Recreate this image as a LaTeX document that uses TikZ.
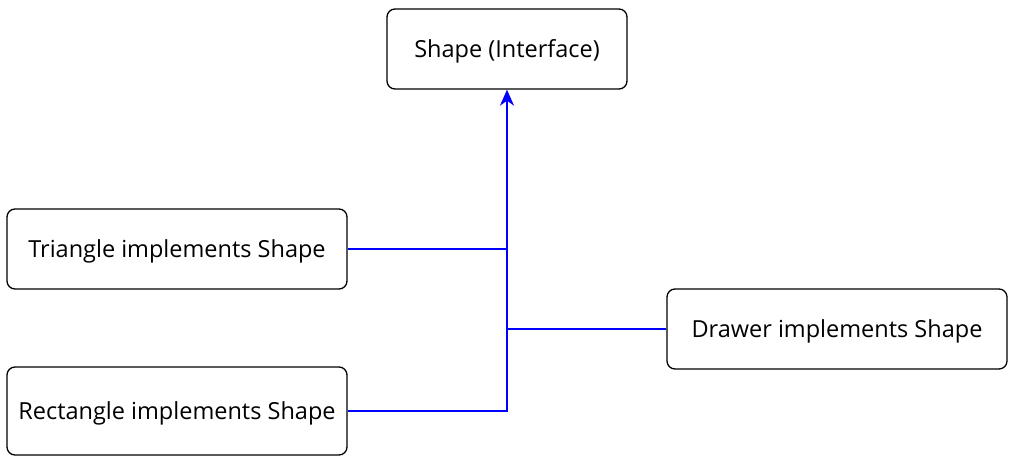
\documentclass[tikz,border=0pt]{standalone}
\usepackage{fontspec}
\setmainfont{Open Sans}
\usetikzlibrary{arrows.meta}
\begin{document}
\begin{tikzpicture}[x=1pt,y=1pt,
  box/.style={draw,line width=1.3pt,rounded corners=8pt,minimum width=340pt,minimum height=80pt,inner sep=0pt,text height=17pt,text depth=0pt,font=\fontsize{23.5}{26}\selectfont},
  link/.style={draw=blue,line width=1.6pt}]
\useasboundingbox (0,0) rectangle (1014,464);
\node[box,minimum width=240pt] (shape) at (507,415) {Shape (Interface)};
\node[box] (tri) at (177,215) {Triangle implements Shape};
\node[box,minimum height=88pt] (rect) at (177,53) {Rectangle implements Shape};
\node[box] (drawer) at (837,135) {Drawer implements Shape};
\draw[link] (tri.east) -- (tri.east -| shape.south);
\draw[link] (drawer.west) -- (drawer.west -| shape.south);
\draw[link,-{Stealth[length=16pt,width=14pt,inset=5pt]}] (rect.east) -| (shape.south);
\end{tikzpicture}
\end{document}
